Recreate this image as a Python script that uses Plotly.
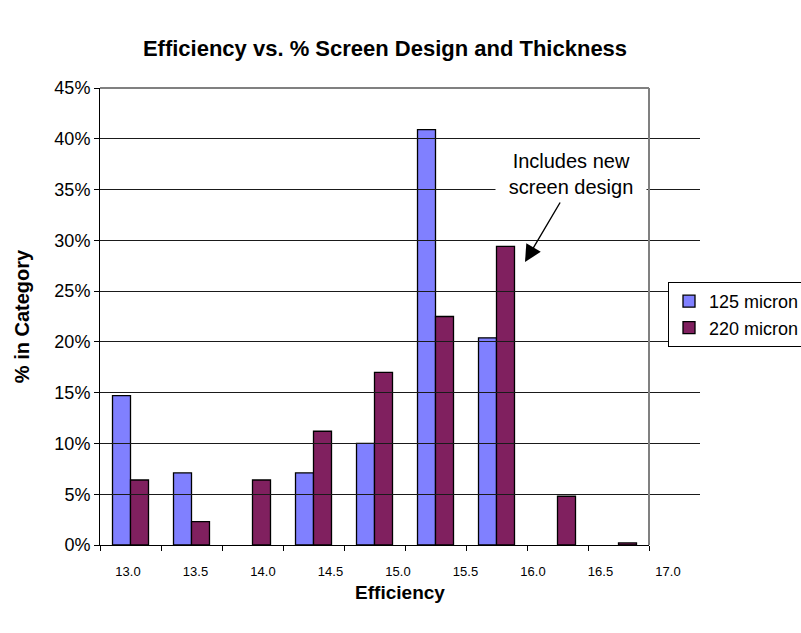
import plotly.graph_objects as go

# Efficiency bins (one bar group per bin) and share of cells in each bin, %
bins = ["13.0", "13.5", "14.0", "14.5", "15.0", "15.5", "16.0", "16.5", "17.0"]
micron_125 = [14.7, 7.1, 0, 7.1, 10.0, 40.9, 20.4, 0, 0]
micron_220 = [6.4, 2.3, 6.4, 11.2, 17.0, 22.5, 29.4, 4.8, 0.2]

# Efficiency scale printed under the bars
efficiency_ticks = [13.0, 13.5, 14.0, 14.5, 15.0, 15.5, 16.0, 16.5, 17.0]
pct_ticks = [0, 5, 10, 15, 20, 25, 30, 35, 40, 45]

W, H = 801, 633
L, R, T, B = 100, 101, 88, 88
plot_w = W - L - R          # width of the efficiency-scale axis
plot_h = H - T - B
bar_w = 549                 # width of the bar area
px_per_unit = 135.0         # efficiency scale: pixels per 1.0
first_tick_px = 28          # offset of 13.0 from the left edge
eff_range = [13.0 - first_tick_px / px_per_unit,
             13.0 + (plot_w - first_tick_px) / px_per_unit]

FONT = "Arial, Liberation Sans, sans-serif"
BLUE = "#8080FF"
PLUM = "#80205F"


def drawn(values):
    # empty bins get no bar at all
    return [v if v > 0 else None for v in values]


fig = go.Figure()
fig.add_trace(go.Bar(
    x=bins, y=drawn(micron_125), name="125 micron",
    marker=dict(color=BLUE, line=dict(color="black", width=1.3)),
    xaxis="x", yaxis="y",
))
fig.add_trace(go.Bar(
    x=bins, y=drawn(micron_220), name="220 micron",
    marker=dict(color=PLUM, line=dict(color="black", width=1.3)),
    xaxis="x", yaxis="y",
))
# carrier for the efficiency scale
fig.add_trace(go.Scatter(
    x=efficiency_ticks, y=[0] * len(efficiency_ticks),
    mode="markers", marker=dict(opacity=0), opacity=0,
    hoverinfo="skip", showlegend=False,
    xaxis="x2", yaxis="y",
))

fig.update_layout(
    width=W, height=H,
    margin=dict(l=L, r=R, t=T, b=B, autoexpand=False),
    paper_bgcolor="white",
    plot_bgcolor="rgba(0,0,0,0)",
    font=dict(family=FONT, color="black"),
    barmode="group",
    bargap=0.41,
    bargroupgap=0,
    title=dict(
        text="<b>Efficiency vs. % Screen Design and Thickness</b>",
        x=385 / W, xanchor="center", xref="container",
        y=1 - 48 / H, yanchor="middle", yref="container",
        font=dict(size=22, family=FONT, color="black"),
    ),
    xaxis=dict(
        domain=[0, bar_w / plot_w],
        type="category",
        categoryorder="array", categoryarray=bins,
        showticklabels=False,
        ticks="outside", ticklen=5, tickcolor="black", tickwidth=1,
        tickson="boundaries",
        showline=True, linecolor="black", linewidth=1,
        showgrid=False, zeroline=False,
        anchor="y",
    ),
    xaxis2=dict(
        domain=[0, 1],
        type="linear",
        range=eff_range,
        tickmode="array", tickvals=efficiency_ticks,
        ticktext=[f"{v:.1f}" for v in efficiency_ticks],
        tickfont=dict(size=13, family=FONT, color="black"),
        ticks="outside", ticklen=14, tickcolor="rgba(0,0,0,0)",
        showline=False, showgrid=False, zeroline=False,
        anchor="y",
        title=dict(text="<b>Efficiency</b>", standoff=8,
                   font=dict(size=19, family=FONT, color="black")),
    ),
    yaxis=dict(
        domain=[0, 1],
        range=[0, 45],
        tickmode="array", tickvals=pct_ticks,
        ticktext=[f"{v}%" for v in pct_ticks],
        tickfont=dict(size=18, family=FONT, color="black"),
        ticks="outside", ticklen=5, tickcolor="black",
        showline=True, linecolor="black", linewidth=1,
        showgrid=True, gridcolor="#1a1a1a", gridwidth=1,
        zeroline=False,
        anchor="x",
        title=dict(text="<b>% in Category</b>", standoff=19,
                   font=dict(size=20, family=FONT, color="black")),
    ),
    legend=dict(
        x=(668 - L) / plot_w, xanchor="left",
        y=(H - B - 282) / plot_h, yanchor="top",
        bgcolor="white", bordercolor="black", borderwidth=1,
        font=dict(size=18, family=FONT, color="black"),
        tracegroupgap=0, itemwidth=30,
    ),
    showlegend=True,
)

# Grey frame on the top and right of the bar area
fig.add_shape(type="line", xref="x domain", yref="y domain",
              x0=0, x1=1, y0=1, y1=1, line=dict(color="#808080", width=2))
fig.add_shape(type="line", xref="x domain", yref="y domain",
              x0=1, x1=1, y0=0, y1=1, line=dict(color="#808080", width=2))

# Callout for the new screen design
fig.add_annotation(
    text="Includes new<br>screen design",
    xref="paper", yref="paper",
    x=(571 - L) / plot_w, y=(H - B - 174) / plot_h,
    xanchor="center", yanchor="middle",
    showarrow=False, align="center",
    bgcolor="white", width=148, height=52,
    font=dict(size=20, family=FONT, color="black"),
)
fig.add_annotation(
    text="",
    xref="paper", yref="paper",
    x=(525 - L) / plot_w, y=(H - B - 262) / plot_h,
    ax=36, ay=-61,
    showarrow=True, arrowhead=2, arrowsize=2.4, arrowwidth=1.4,
    arrowcolor="black",
)

fig.write_html("out.html")
